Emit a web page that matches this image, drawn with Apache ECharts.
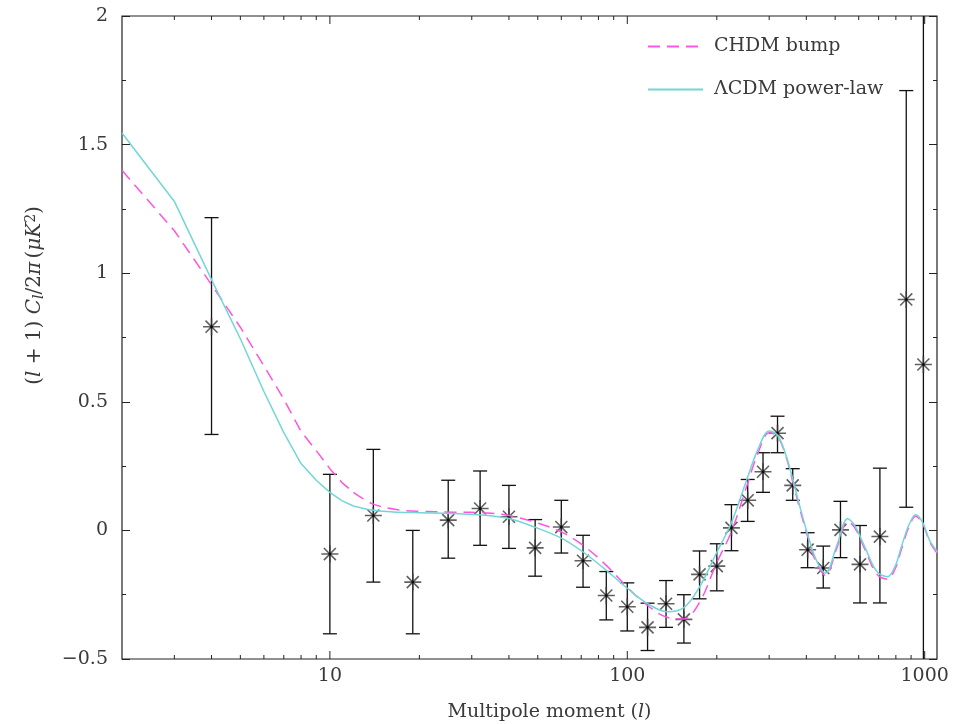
<!DOCTYPE html>
<html><head><meta charset="utf-8">
<script src="https://cdn.jsdelivr.net/npm/echarts@6/dist/echarts.min.js"></script>
<style>html,body{margin:0;padding:0;background:#fff}#c{width:962px;height:724px}</style>
</head><body><div id="c"></div>
<script>
// ---- data ----
const pointL = [4,10,14,19,25,32,40,49,60,71,85,100,117,135,155,175,200,224,254,286,320,360,404,456,521,606,707,867,990];
const pointV = [0.792,-0.092,0.058,-0.201,0.040,0.085,0.053,-0.068,0.013,-0.118,-0.253,-0.297,-0.377,-0.285,-0.346,-0.171,-0.139,0.010,0.117,0.228,0.378,0.175,-0.075,-0.146,0.002,-0.132,-0.024,0.898,0.645];
const errHi  = [1.216,0.218,0.315,0.000,0.195,0.231,0.175,0.042,0.117,-0.019,-0.160,-0.204,-0.283,-0.195,-0.250,-0.080,-0.052,0.100,0.198,0.302,0.444,0.240,-0.009,-0.061,0.113,0.019,0.242,1.710,2.500];
const errLo  = [0.373,-0.402,-0.201,-0.402,-0.108,-0.058,-0.070,-0.178,-0.088,-0.221,-0.348,-0.391,-0.467,-0.377,-0.438,-0.266,-0.235,-0.079,0.035,0.148,0.302,0.117,-0.145,-0.224,-0.106,-0.282,-0.282,0.090,-1.000];

// low multipoles: models evaluated at integer l (drawn piecewise linear)
const lowL     = [2,3,4,5,6,7,8,9,10,11,12];
const lcdmLowV = [1.545,1.279,0.975,0.745,0.54,0.38,0.26,0.195,0.148,0.115,0.095];
const chdmLowV = [1.400,1.165,0.955,0.790,0.64,0.51,0.385,0.31,0.240,0.185,0.148];
// higher multipoles (smooth)
const highL    = [12,14,17,20,26,34,40,49,60,71,85,100,117,136,155,175,200,224,251,275,300,320,340,360,380,402,430,464,506,551,581,632,690,750,795,837,884,933,985,1040,1104];
const lcdmHighV = [0.095,0.078,0.071,0.069,0.066,0.058,0.046,0.012,-0.03,-0.084,-0.155,-0.225,-0.285,-0.316,-0.300,-0.220,-0.085,0.030,0.190,0.315,0.386,0.370,0.300,0.200,0.095,-0.006,-0.110,-0.166,-0.060,0.045,0.020,-0.070,-0.160,-0.180,-0.140,-0.060,0.020,0.061,0.030,-0.040,-0.084];
const chdmHighV = [0.148,0.102,0.080,0.074,0.071,0.068,0.058,0.032,-0.006,-0.058,-0.136,-0.221,-0.292,-0.338,-0.344,-0.280,-0.125,-0.005,0.165,0.300,0.380,0.366,0.295,0.190,0.085,-0.015,-0.120,-0.175,-0.070,0.035,0.012,-0.078,-0.170,-0.190,-0.150,-0.070,0.012,0.055,0.025,-0.045,-0.090];

const xMajorTicks = [10,100,1000];
const xMinorTicks = [3,4,5,6,7,8,9,20,30,40,50,60,70,80,90,200,300,400,500,600,700,800,900];
const xMin = 2, xMax = 1100, yMin = -0.5, yMax = 2, yStep = 0.5;
const seriesNames = ['CHDM bump', '\u039BCDM power-law'];

// ---- chart ----
const FONT = 'DejaVu Serif';
const TXT = '#3a3a3a';
const PINK = '#ff55e0', CYAN = '#72d6d6';
const chart = echarts.init(document.getElementById('c'), null, {renderer: 'canvas'});

const tickData = xMajorTicks.map(v => [v, 8]).concat(xMinorTicks.map(v => [v, 4]));
const pointData = pointL.map((l, i) => [l, pointV[i]]);
const errData = pointL.map((l, i) => [l, errHi[i], errLo[i]]);
const pair = (xs, ys) => xs.map((x, i) => [x, ys[i]]);

const star = 'path://M0,-10L0,10M-10,0L10,0M-7.07,-7.07L7.07,7.07M-7.07,7.07L7.07,-7.07';

const yAxisBase = {
  type: 'value', min: yMin, max: yMax, interval: yStep,
  axisLine: {show: false},
  axisTick: {show: true, inside: true, length: 8, lineStyle: {color: '#222', width: 1}},
  minorTick: {show: true, splitNumber: 2, length: 4, lineStyle: {color: '#222', width: 1}},
  splitLine: {show: false}
};

const pinkLine = {color: PINK, width: 1.5, type: [12, 7]};
const cyanLine = {color: CYAN, width: 1.5};
const hiddenItem = {color: 'transparent', borderColor: 'transparent', borderWidth: 0};

chart.setOption({
  animation: false,
  backgroundColor: '#fff',
  grid: {left: 122, right: 25, top: 16, bottom: 65, outerBoundsMode: 'none', containLabel: false,
         show: true, borderColor: '#222', borderWidth: 1.2, backgroundColor: 'transparent'},
  legend: {
    data: seriesNames, padding: 0,
    orient: 'vertical', left: 647, top: 37, itemGap: 24, itemWidth: 55, itemHeight: 20,
    itemStyle: {opacity: 0},
    textStyle: {fontFamily: FONT, fontSize: 19, color: TXT, padding: [0,0,0,6]}
  },
  xAxis: [{
    type: 'log', logBase: 10, min: xMin, max: xMax,
    axisLine: {show: false}, axisTick: {show: false}, splitLine: {show: false},
    axisLabel: {
      fontFamily: FONT, fontSize: 19, color: TXT, margin: 8,
      showMinLabel: false, showMaxLabel: false,
      formatter: v => {
        const m = xMajorTicks.find(t => Math.abs(t - v) / t < 1e-6);
        return m ? String(m) : '';
      }
    },
    name: '{n|Multipole moment (}{i|l}{n|)}',
    nameLocation: 'middle', nameGap: 44,
    nameTextStyle: {padding: [0,0,0,40], rich: {
      n: {fontFamily: FONT, fontSize: 19, color: TXT},
      i: {fontFamily: FONT, fontSize: 19, color: TXT, fontStyle: 'italic'}
    }}
  }],
  yAxis: [Object.assign({}, yAxisBase, {
    position: 'left',
    axisLabel: {
      fontFamily: FONT, fontSize: 19, color: TXT, margin: 14,
      formatter: v => v < 0 ? '\u2212' + Math.abs(v) : String(v)
    },
    name: '{n|(}{i|l}{n| + 1) }{i|C}{sub|l}{n|/2}{i|\u03C0} {n|(}{i|\u03BCK}{sup|2}{n|)}',
    nameLocation: 'middle', nameGap: 76,
    nameTextStyle: {padding: [0,0,0,84], rich: {
      n: {fontFamily: FONT, fontSize: 20, color: TXT},
      i: {fontFamily: FONT, fontSize: 20, color: TXT, fontStyle: 'italic'},
      sub: {fontFamily: FONT, fontSize: 14, color: TXT, fontStyle: 'italic', verticalAlign: 'bottom', padding: [8,0,0,0]},
      sup: {fontFamily: FONT, fontSize: 14, color: TXT, verticalAlign: 'top', padding: [0,0,8,0]}
    }}
  }), Object.assign({}, yAxisBase, {
    position: 'right',
    axisLabel: {show: false}
  })],
  series: [
    {
      name: seriesNames[0], type: 'line', data: pair(lowL, chdmLowV),
      symbol: 'none', smooth: false, clip: true, lineStyle: pinkLine, itemStyle: hiddenItem
    },
    {
      name: seriesNames[0], type: 'line', data: pair(highL, chdmHighV),
      symbol: 'none', smooth: 0.35, clip: true, lineStyle: pinkLine, itemStyle: hiddenItem
    },
    {
      name: seriesNames[1], type: 'line', data: pair(lowL, lcdmLowV),
      symbol: 'none', smooth: false, clip: true, lineStyle: cyanLine, itemStyle: hiddenItem
    },
    {
      name: seriesNames[1], type: 'line', data: pair(highL, lcdmHighV),
      symbol: 'none', smooth: 0.35, clip: true, lineStyle: cyanLine, itemStyle: hiddenItem
    },
    {
      name: 'ticks', type: 'custom', silent: true,
      data: tickData,
      renderItem: (params, api) => {
        const l = api.value(0), len = api.value(1);
        const b = api.coord([l, yMin]);
        const t = api.coord([l, yMax]);
        const st = {stroke: '#222', lineWidth: 1};
        return {type: 'group', children: [
          {type: 'line', shape: {x1: b[0], y1: b[1], x2: b[0], y2: b[1] - len}, style: st},
          {type: 'line', shape: {x1: t[0], y1: t[1], x2: t[0], y2: t[1] + len}, style: st}
        ]};
      }
    },
    {
      name: 'errors', type: 'custom', silent: true,
      data: errData,
      renderItem: (params, api) => {
        const l = api.value(0), hi = api.value(1), lo = api.value(2);
        const top = api.coord([l, Math.min(hi, yMax)]);
        const bot = api.coord([l, Math.max(lo, yMin)]);
        const st = {stroke: '#111', lineWidth: 1.3};
        const cw = 7;
        const ch = [{type: 'line', shape: {x1: top[0], y1: top[1], x2: bot[0], y2: bot[1]}, style: st}];
        if (hi <= yMax) ch.push({type: 'line', shape: {x1: top[0] - cw, y1: top[1], x2: top[0] + cw, y2: top[1]}, style: st});
        if (lo >= yMin) ch.push({type: 'line', shape: {x1: bot[0] - cw, y1: bot[1], x2: bot[0] + cw, y2: bot[1]}, style: st});
        return {type: 'group', children: ch};
      }
    },
    {
      name: 'data', type: 'scatter',
      data: pointData, symbol: star, symbolSize: 17,
      itemStyle: {color: 'transparent', borderColor: '#3a3a3a', borderWidth: 1.6}
    },
    {
      name: 'dots', type: 'scatter', silent: true,
      data: pointData, symbol: 'circle', symbolSize: 3,
      itemStyle: {color: '#000'}
    }
  ]
});
</script></body></html>
